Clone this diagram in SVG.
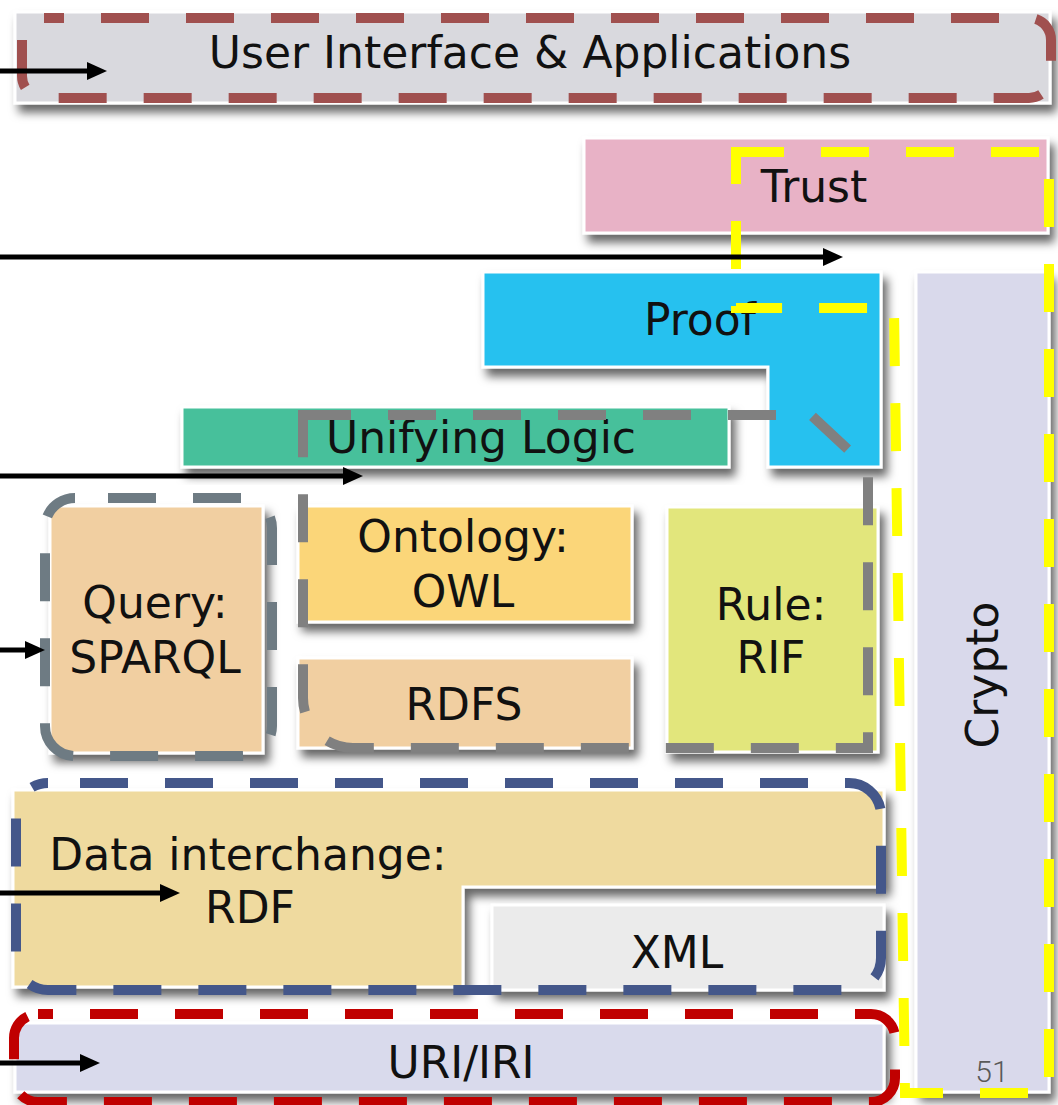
<svg xmlns="http://www.w3.org/2000/svg" width="1058" height="1105" viewBox="0 0 1058 1105">
<style>
.box{stroke:#ffffff;stroke-width:3;filter:url(#sh)}
.t{font-family:"DejaVu Sans","Liberation Sans",sans-serif;font-size:44px;fill:#111;text-anchor:middle}
.d{fill:none;stroke-width:10;stroke-dasharray:48 37}
.arr{stroke:#000;stroke-width:5;fill:none;marker-end:url(#ah)}
</style>
<defs>
<filter id="sh" x="-10%" y="-20%" width="125%" height="150%">
<feDropShadow dx="5" dy="8" stdDeviation="5" flood-color="#000" flood-opacity="0.6"/>
</filter>
<marker id="ah" markerUnits="userSpaceOnUse" markerWidth="20" markerHeight="18" refX="0" refY="9" orient="auto">
<path d="M0,0 L20,9 L0,18 Z" fill="#000"/>
</marker>
</defs>
<rect width="1058" height="1105" fill="#ffffff"/>

<g id="ui">
<rect class="box" x="15" y="12" width="1035" height="91" fill="#d9d9de"/>
<text class="t" x="530" y="68">User Interface &amp; Applications</text>
</g>
<g id="trust">
<rect class="box" x="584" y="138" width="464" height="95" fill="#e8b2c6"/>
<text class="t" x="814" y="202">Trust</text>
</g>
<g id="crypto">
<rect class="box" x="916" y="272" width="133" height="820" fill="#d9d9eb"/>
<text class="t" transform="translate(998,675) rotate(-90)">Crypto</text>
</g>
<g id="proof">
<path class="box" d="M483,272 H881 V467 H768 V367 H483 Z" fill="#27c1ef"/>
<text class="t" x="700" y="335">Proof</text>
</g>
<g id="unifying-logic">
<rect class="box" x="182" y="407" width="547" height="60" fill="#46c09b"/>
<text class="t" x="481" y="453">Unifying Logic</text>
</g>
<g id="query">
<rect class="box" x="50" y="506" width="213" height="247" fill="#f1cfa1"/>
<text class="t" x="155" y="618">Query:</text>
<text class="t" x="155" y="673">SPARQL</text>
</g>
<g id="ontology">
<rect class="box" x="298" y="506" width="334" height="116" fill="#fbd679"/>
<text class="t" x="463" y="552">Ontology:</text>
<text class="t" x="463" y="607">OWL</text>
</g>
<g id="rdfs">
<rect class="box" x="298" y="658" width="334" height="90" fill="#f1cfa1"/>
<text class="t" x="464" y="720">RDFS</text>
</g>
<g id="rule">
<rect class="box" x="667" y="507" width="211" height="245" fill="#e2e67b"/>
<text class="t" x="771" y="620">Rule:</text>
<text class="t" x="771" y="673">RIF</text>
</g>
<g id="rdf">
<path class="box" d="M13,790 H884 V887 H463 V987 H13 Z" fill="#efda9f"/>
<text class="t" x="248" y="870">Data interchange:</text>
<text class="t" x="250" y="923">RDF</text>
</g>
<g id="xml">
<rect class="box" x="492" y="905" width="392" height="85" fill="#ebebeb"/>
<text class="t" x="677" y="968">XML</text>
</g>
<g id="uri">
<rect class="box" x="15" y="1023" width="869" height="69" fill="#d9daec"/>
<text class="t" x="461" y="1078">URI/IRI</text>
</g>

<g id="outlines">
<rect class="d" x="22" y="18" width="1029" height="80" rx="22" stroke="#a0504f" stroke-dashoffset="28"/>
<path class="d" d="M303,415 H811 L868,468 V748 H353 A50,50 0 0 1 303,698 Z" stroke="#808080"/>
<rect class="d" x="45" y="498" width="227" height="258" rx="30" stroke="#6e7b83" stroke-dashoffset="52"/>
<rect class="d" x="16" y="783" width="865" height="207" rx="32" stroke="#44578a" stroke-dashoffset="53"/>
<rect class="d" x="14" y="1014" width="881" height="88" rx="24" stroke="#c00000" stroke-dashoffset="33"/>
<path class="d" d="M736,152 H1049 V1093 H905 L894,308 H736 Z" stroke="#ffff00"/>
</g>

<g id="connectors">
<line class="arr" x1="-5" y1="71" x2="87" y2="71"/>
<line class="arr" x1="-5" y1="257" x2="823" y2="257"/>
<line class="arr" x1="-5" y1="476" x2="343" y2="476"/>
<line class="arr" x1="-5" y1="650" x2="25" y2="650"/>
<line class="arr" x1="-5" y1="893" x2="160" y2="893"/>
<line class="arr" x1="-5" y1="1063" x2="80" y2="1063"/>
</g>

<text x="992" y="1082" style="font-family:Roboto,'Liberation Sans',sans-serif;font-weight:300;font-size:30px;fill:#595959;text-anchor:middle">51</text>
</svg>
